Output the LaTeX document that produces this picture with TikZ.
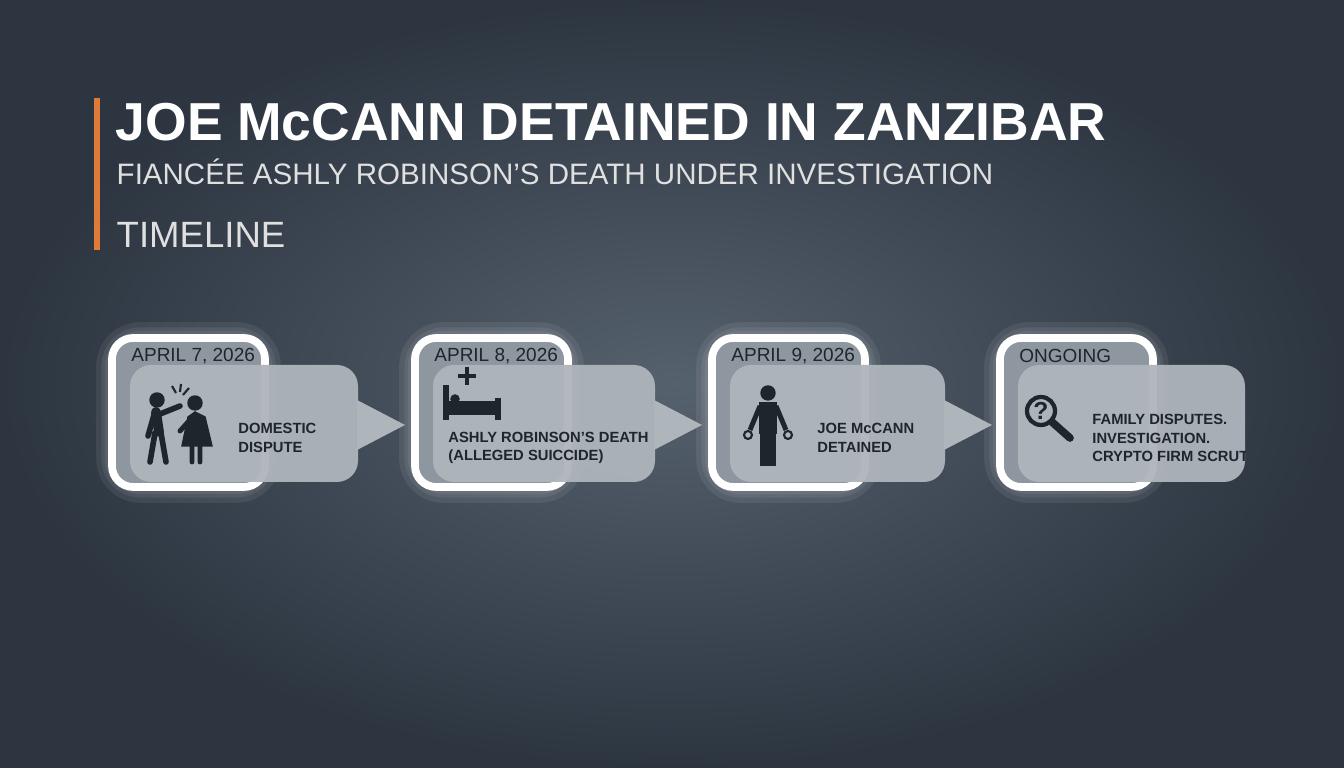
\documentclass[tikz,border=0pt]{standalone}
\usepackage{fontspec}
\setmainfont{Liberation Sans}
\definecolor{bgdark}{HTML}{2C3540}
\definecolor{bgmid}{HTML}{56616E}
\definecolor{tilefill}{HTML}{8E979F}
\definecolor{panelfill}{HTML}{AEB5BB}
\definecolor{inkdark}{HTML}{1E262C}
\definecolor{accent}{HTML}{E07A38}
\tikzset{
  glow/.style={rounded corners=8, draw=white, line width=#1, opacity=0.07},
  tile/.style={rounded corners=6, fill=tilefill, draw=white, line width=2.2pt},
  panel/.style={rounded corners=6, fill=panelfill, opacity=0.95},
  datetxt/.style={anchor=west, font=\fontsize{5.4}{6}\selectfont, text=inkdark},
  bodytxt/.style={anchor=west, align=left, font=\fontsize{4.2}{5.2}\selectfont\bfseries, text=inkdark},
  icon/.style={fill=inkdark, draw=inkdark}
}
\begin{document}
\begin{tikzpicture}[x=0.01cm,y=-0.01cm]
\useasboundingbox (0,0) rectangle (1344,768);
% background
\shade[inner color=bgmid, outer color=bgdark] (0,0) rectangle (1344,768);

% heading
\fill[accent] (94,98) rectangle (100,250);
\node[anchor=base west, text=white, font=\fontsize{15.2}{17}\selectfont\bfseries, inner sep=0] (title) at (115,141) {JOE McCANN DETAINED IN ZANZIBAR};
\node[anchor=base west, text=white!88!black, font=\fontsize{8.4}{10}\selectfont, inner sep=0] (subtitle) at (116,185) {FIANCÉE ASHLY ROBINSON’S DEATH UNDER INVESTIGATION};
\node[anchor=base west, text=white!88!black, font=\fontsize{10.4}{12}\selectfont, inner sep=0] (heading) at (116,248) {TIMELINE};

% cards
\foreach \i/\x/\w/\date in {1/112/246/{APRIL 7, 2026},2/415/240/{APRIL 8, 2026},3/712/233/{APRIL 9, 2026},4/1000/245/{ONGOING}}
{
  \foreach \g in {9pt,6pt,4pt}
    \draw[glow=\g] (\x,338) rectangle ++(153,149);
  \draw[tile] (\x,338) rectangle ++(153,149);
  \fill[panel] (\x+18,365) rectangle (\x+\w,482);
  \node[datetxt] (d\i) at (\x+7,356) {\date};
}
\foreach \i/\x in {1/358,2/655,3/945}
  \fill[panelfill] (\x-1,400) coordinate (b\i) -- (\x+47,425) coordinate (t\i) -- (\x-1,450) -- cycle;

% card texts
\node[bodytxt] (e1) at (226,438) {DOMESTIC\\DISPUTE};
\node[bodytxt] (e2) at (436,448) {ASHLY ROBINSON’S DEATH\\(ALLEGED SUICCIDE)};
\node[bodytxt] (e3) at (805,438) {JOE McCANN\\DETAINED};
\begin{scope}
\clip (1018,365) rectangle (1245,482);
\node[bodytxt] (e4) at (1080,438) {FAMILY DISPUTES.\\INVESTIGATION.\\CRYPTO FIRM SCRUTINY};
\end{scope}

% icon: two people
\fill[icon] (157,400) circle (7);
\draw[icon, line width=2.8pt, line cap=round] (156,412) -- (159,432);
\draw[icon, line width=1.6pt, line cap=round] (155,433) -- (150,462) (161,433) -- (166,462) (154,415) -- (148,436) (160,414) -- (180,406);
\fill[icon] (195,403) circle (7);
\fill[icon] (195,412) -- (188,417) -- (182,446) -- (212,446) -- (205,417) -- cycle;
\draw[icon, line width=1.4pt, line cap=round] (192,446) -- (192,462) (200,446) -- (200,462) (189,421) -- (180,431);
\draw[icon, line width=0.6pt] (176,393) -- (172,386) (180,392) -- (181,384) (183,395) -- (189,388);
% icon: bed
\draw[icon, line width=1.6pt] (446,385) -- (446,420) (498,398) -- (498,420) (446,412) -- (498,412);
\fill[icon] (447,402) rectangle (497,408);
\fill[icon] (455,399) circle (4);
\draw[icon, line width=1.2pt] (467,367) -- (467,385) (458,376) -- (476,376);
% icon: detained person
\fill[icon] (768,393) circle (7);
\fill[icon] (760,403) rectangle (776,433);
\draw[icon, line width=2pt] (764,433) -- (764,466) (772,433) -- (772,466);
\draw[icon, line width=1.4pt] (760,406) -- (750,430) (776,406) -- (786,430);
\draw[inkdark, line width=0.6pt] (748,435) circle (4) (788,435) circle (4);
% icon: magnifier
\draw[inkdark, line width=1.2pt] (1041,411) circle (14);
\draw[inkdark, line width=2.2pt, line cap=round] (1052,422) -- (1070,438);
\node[text=inkdark, font=\fontsize{7}{8}\selectfont\bfseries] (q) at (1041,411) {?};
\end{tikzpicture}
\end{document}
